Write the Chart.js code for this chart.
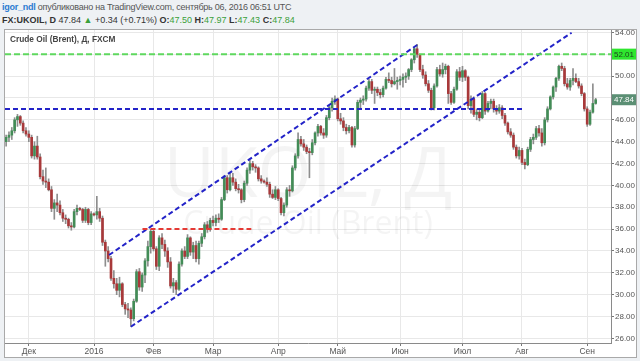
<!DOCTYPE html>
<html lang="ru">
<head>
<meta charset="UTF-8">
<title>UKOIL</title>
<script src="https://cdn.jsdelivr.net/npm/chart.js"></script>
<style>
  body { margin: 0; width: 640px; height: 361px; background: #eef1f4; position: relative; overflow: hidden;
         font-family: "Liberation Sans", Arial, sans-serif; }
  #h1 { position: absolute; left: 2px; top: 2px; font-size: 9px; letter-spacing: -0.25px; color: #555; white-space: nowrap; }
  #h1 b { color: #2b7bd1; }
  #h2 { position: absolute; left: 2px; top: 15px; font-size: 9px; color: #333; white-space: nowrap; }
  #h2 b { color: #333; }
  #h2 .g { color: #3aa03a; }
  #frame { position: absolute; left: 4px; top: 29px; width: 631px; height: 327px; border: 1px solid #a9a9a9; background: #fff; }
  #title { position: absolute; left: 5px; top: 4px; font-size: 8.3px; font-weight: bold; color: #444; z-index: 2; }
</style>
</head>
<body>
<div id="h1"><b>igor_ndl</b> опубликовано на TradingView.com, сентябрь 06, 2016 06:51 UTC</div>
<div id="h2"><b>FX:UKOIL, D</b> 47.84 <span class="g">&#9650;</span> +0.34 (+0.71%) <b>O:</b><span class="g">47.50</span> <b>H:</b><span class="g">47.97</span> <b>L:</b><span class="g">47.43</span> <b>C:</b><span class="g">47.84</span></div>
<div id="frame">
  <div id="title">Crude Oil (Brent), Д, FXCM</div>
  <canvas id="chart"></canvas>
</div>
<script>
// daily bars, 19 Nov 2015 .. 06 Sep 2016 (weekdays)
const opens = [
  44.0, 44.4, 44.6, 45.0, 46.0, 46.3, 45.7, 45.0, 44.7, 44.4,
  42.7, 43.6, 42.6, 40.8, 40.4, 40.3, 39.6, 37.9, 38.4, 38.2,
  37.5, 37.0, 36.9, 36.3, 36.2, 37.6, 37.9, 37.8, 36.8, 37.8,
  36.6, 37.4, 37.3, 37.6, 37.0, 34.8, 34.0, 33.3, 31.5, 31.0,
  30.4, 31.0, 29.1, 28.7, 28.6, 27.8, 29.4, 32.1, 30.7, 31.8,
  33.1, 34.4, 35.8, 34.2, 32.6, 35.2, 34.6, 34.0, 33.0, 30.8,
  31.1, 30.5, 32.8, 34.0, 33.5, 35.2, 33.9, 34.5, 33.3, 34.7,
  35.3, 36.4, 36.0, 36.8, 36.6, 37.0, 36.9, 38.7, 40.7, 39.6,
  40.7, 40.3, 39.7, 39.6, 38.7, 40.2, 41.4, 42.0, 41.7, 41.6,
  40.6, 40.4, 40.3, 40.1, 39.2, 38.9, 39.6, 38.8, 37.5, 38.2,
  39.6, 39.5, 41.6, 42.7, 44.2, 43.8, 43.5, 43.1, 43.0, 43.9,
  44.8, 45.4, 44.8, 44.6, 46.2, 47.1, 47.7, 47.9, 46.1, 45.9,
  45.3, 45.0, 45.3, 43.7, 45.2, 47.6, 47.8, 47.9, 48.9, 49.5,
  48.7, 48.8, 48.5, 48.3, 48.9, 49.7, 49.6, 49.3, 49.5, 49.6,
  49.7, 49.9, 50.0, 50.6, 51.5, 52.5, 52.0, 50.6, 50.1, 49.3,
  48.7, 47.1, 49.1, 50.6, 50.2, 50.6, 50.9, 48.4, 47.6, 48.8,
  50.4, 49.9, 50.5, 49.9, 47.3, 47.9, 46.5, 46.7, 46.2, 48.4,
  46.8, 47.5, 47.7, 47.0, 46.8, 47.1, 46.4, 45.7, 44.9, 44.6,
  43.5, 42.7, 43.2, 42.1, 41.9, 43.3, 44.2, 44.4, 45.2, 44.8,
  43.9, 46.0, 47.0, 48.1, 49.0, 49.8, 50.9, 50.7, 49.3, 49.0,
  49.6, 49.8, 49.5, 49.1, 48.4, 47.0, 45.6, 46.7, 47.50
];
const highs = [
  44.6, 44.9, 45.3, 46.2, 46.5, 46.4, 45.9, 45.3, 45.0, 44.6,
  44.0, 44.5, 42.9, 41.4, 41.6, 40.6, 39.9, 38.7, 39.2, 38.6,
  37.8, 37.3, 37.0, 36.6, 37.8, 38.2, 38.0, 37.9, 38.0, 37.9,
  37.6, 37.5, 39.0, 37.9, 37.2, 35.0, 34.4, 33.5, 32.2, 31.5,
  31.6, 31.1, 29.3, 29.2, 28.8, 29.6, 32.3, 32.4, 32.0, 33.3,
  34.9, 36.0, 36.0, 34.4, 35.4, 35.6, 35.0, 34.3, 33.4, 31.5,
  31.3, 33.0, 34.2, 34.4, 35.5, 35.3, 34.8, 34.9, 34.9, 35.6,
  36.6, 36.7, 37.0, 37.2, 37.3, 37.4, 38.9, 40.9, 40.9, 41.2,
  41.1, 40.6, 40.1, 39.7, 40.4, 41.6, 42.3, 42.2, 41.9, 41.7,
  40.9, 40.5, 40.7, 40.3, 39.6, 39.9, 39.7, 38.9, 38.4, 39.8,
  40.0, 41.8, 42.9, 44.8, 44.5, 44.2, 43.7, 43.4, 44.2, 44.9,
  45.6, 45.5, 45.2, 46.4, 47.3, 48.0, 48.2, 48.0, 46.6, 46.2,
  45.6, 45.5, 45.4, 45.4, 47.8, 48.0, 48.2, 49.1, 49.7, 49.7,
  49.0, 49.0, 48.8, 49.1, 49.9, 50.3, 49.9, 50.7, 49.9, 50.0,
  50.2, 50.3, 50.7, 51.6, 52.6, 52.9, 52.0, 51.0, 50.4, 49.6,
  48.9, 49.3, 50.8, 51.0, 51.2, 51.1, 51.0, 48.6, 49.0, 50.6,
  50.8, 50.9, 50.6, 50.0, 48.2, 48.1, 47.0, 46.9, 48.6, 48.5,
  47.7, 47.9, 47.9, 47.3, 47.4, 47.3, 46.6, 45.8, 45.2, 44.8,
  43.7, 43.5, 43.4, 42.4, 43.5, 44.4, 44.7, 45.4, 45.5, 45.2,
  46.2, 47.2, 48.2, 49.1, 49.9, 51.0, 51.2, 50.9, 49.8, 49.8,
  50.7, 50.2, 49.8, 49.3, 48.5, 47.2, 46.9, 49.3, 47.97
];
const lows = [
  43.6, 44.0, 44.2, 44.8, 45.4, 45.5, 44.8, 44.5, 44.0, 42.5,
  42.4, 42.4, 40.6, 40.1, 39.8, 39.5, 37.6, 36.9, 37.6, 37.3,
  36.7, 36.5, 36.1, 35.9, 36.1, 37.3, 37.7, 36.6, 36.6, 36.4,
  36.4, 37.2, 36.9, 36.7, 34.5, 32.6, 33.0, 31.3, 30.6, 30.0,
  29.8, 28.9, 28.2, 27.9, 27.1, 27.6, 29.3, 30.4, 30.3, 31.1,
  32.6, 33.8, 34.0, 32.3, 32.2, 34.2, 33.5, 32.5, 30.6, 30.2,
  30.0, 30.4, 32.6, 33.3, 33.3, 33.6, 33.3, 33.0, 32.8, 34.4,
  35.1, 35.7, 35.8, 36.3, 36.3, 36.6, 36.8, 38.6, 39.3, 39.5,
  40.0, 39.5, 39.3, 38.4, 38.5, 40.0, 41.1, 41.4, 41.2, 40.4,
  40.2, 40.2, 39.9, 38.9, 38.8, 38.7, 38.6, 37.3, 37.2, 38.0,
  39.0, 39.4, 41.4, 42.5, 43.6, 43.2, 42.9, 40.7, 42.8, 43.7,
  44.5, 44.6, 44.3, 44.4, 46.0, 46.8, 47.4, 45.9, 45.6, 45.0,
  44.7, 44.8, 43.5, 43.5, 45.1, 47.1, 47.4, 47.7, 48.7, 48.4,
  47.5, 48.2, 48.0, 48.1, 48.8, 49.4, 49.0, 49.2, 48.8, 49.2,
  49.0, 49.4, 49.7, 50.4, 51.2, 51.7, 50.4, 49.8, 49.1, 48.5,
  46.9, 46.9, 49.0, 50.0, 49.9, 50.2, 47.5, 47.4, 47.5, 48.7,
  49.6, 49.5, 49.6, 47.0, 46.6, 46.3, 46.0, 45.9, 46.1, 46.5,
  46.7, 47.0, 46.7, 46.5, 46.6, 46.1, 45.5, 44.7, 44.4, 43.3,
  42.5, 42.4, 41.9, 41.5, 41.8, 43.1, 43.8, 44.2, 44.5, 43.6,
  43.7, 45.8, 46.9, 47.9, 48.6, 49.6, 50.5, 49.1, 48.8, 48.7,
  49.2, 49.4, 48.9, 48.2, 46.8, 45.4, 45.5, 46.6, 47.43
];
const closes = [
  44.4, 44.6, 45.0, 46.0, 46.3, 45.7, 45.0, 44.7, 44.4, 42.7,
  43.6, 42.6, 40.8, 40.4, 40.3, 39.6, 37.9, 38.4, 38.2, 37.5,
  37.0, 36.9, 36.3, 36.2, 37.6, 37.9, 37.8, 36.8, 37.8, 36.6,
  37.4, 37.3, 37.6, 37.0, 34.8, 34.0, 33.3, 31.5, 31.0, 30.4,
  31.0, 29.1, 28.7, 28.6, 27.8, 29.4, 32.1, 30.7, 31.8, 33.1,
  34.4, 35.8, 34.2, 32.6, 35.2, 34.6, 34.0, 33.0, 30.8, 31.1,
  30.5, 32.8, 34.0, 33.5, 35.2, 33.9, 34.5, 33.3, 34.7, 35.3,
  36.4, 36.0, 36.8, 36.6, 37.0, 36.9, 38.7, 40.7, 39.6, 40.7,
  40.3, 39.7, 39.6, 38.7, 40.2, 41.4, 42.0, 41.7, 41.6, 40.6,
  40.4, 40.3, 40.1, 39.2, 38.9, 39.6, 38.8, 37.5, 38.2, 39.6,
  39.5, 41.6, 42.7, 44.2, 43.8, 43.5, 43.1, 43.0, 43.9, 44.8,
  45.4, 44.8, 44.6, 46.2, 47.1, 47.7, 47.9, 46.1, 45.9, 45.3,
  45.0, 45.3, 43.7, 45.2, 47.6, 47.8, 47.9, 48.9, 49.5, 48.7,
  48.8, 48.5, 48.3, 48.9, 49.7, 49.6, 49.3, 49.5, 49.6, 49.7,
  49.9, 50.0, 50.6, 51.5, 52.5, 52.0, 50.6, 50.1, 49.3, 48.7,
  47.1, 49.1, 50.6, 50.2, 50.6, 50.9, 48.4, 47.6, 48.8, 50.4,
  49.9, 50.5, 49.9, 47.3, 47.9, 46.5, 46.7, 46.2, 48.4, 46.8,
  47.5, 47.7, 47.0, 46.8, 47.1, 46.4, 45.7, 44.9, 44.6, 43.5,
  42.7, 43.2, 42.1, 41.9, 43.3, 44.2, 44.4, 45.2, 44.8, 43.9,
  46.0, 47.0, 48.1, 49.0, 49.8, 50.9, 50.7, 49.3, 49.0, 49.6,
  49.8, 49.5, 49.1, 48.4, 47.0, 45.6, 46.7, 47.5, 47.84
];

// time axis: bar index of the first bar of each month
const monthTickIdx = [8, 31, 52, 73, 96, 117, 139, 161, 182, 205];
const monthLabels = ['Дек', '2016', 'Фев', 'Мар', 'Апр', 'Май', 'Июн', 'Июл', 'Авг', 'Сен'];
const priceTicks = [26, 28, 30, 32, 34, 36, 38, 40, 42, 44, 46, 48, 50, 52, 54];

// drawings: [bar index, price] pairs
const channelTop = [[36.3, 33.63], [145.0, 52.85]];
const channelBottom = [[44.0, 27.07], [199.5, 53.97]];
const levelBlue = [[-0.4, 47.0], [182.4, 47.0]];
const levelRed = [[48.1, 36.0], [86.5, 36.0]];
const levelGreen = [[-0.4, 52.01], [213.4, 52.01]];
const greenLevel = 52.01;

const UP = '#438c57', DOWN = '#a8393a', WICK = '#8e8e8e';

const wickData = lows.map((l, i) => ({ x: i, y: [l, highs[i]] }));
const bodyData = opens.map((o, i) => ({ x: i, y: [o, closes[i]] }));
const bodyColors = opens.map((o, i) => closes[i] >= o ? UP : DOWN);

function drawLine(pts, color, dash) {
    return {
        type: 'line',
        data: pts.map(p => ({ x: p[0], y: p[1] })),
        borderColor: color,
        borderWidth: 2,
        borderDash: dash,
        pointRadius: 0,
        fill: false,
        order: 0
    };
}

const decor = {
    id: 'decor',
    beforeDatasetsDraw(chart) {
        const { ctx, chartArea: a } = chart;
        const cx = (a.left + a.right) / 2;
        ctx.save();
        ctx.fillStyle = 'rgba(0,0,0,0.045)';
        ctx.textAlign = 'center';
        ctx.font = '70px "Open Sans"';
        ctx.fillText('UKOIL, Д', cx, a.top + 167);
        ctx.font = '32px "Open Sans"';
        ctx.fillText('Crude Oil (Brent)', cx, a.top + 204);
        ctx.restore();
    },
    afterDraw(chart) {
        const { ctx, chartArea: a } = chart;
        const ys = chart.scales.y;
        const tag = (v, bg, fg) => {
            const y = ys.getPixelForValue(v);
            ctx.fillStyle = bg;
            ctx.fillRect(a.right + 1, y - 5.5, 24, 11);
            ctx.fillStyle = fg;
            ctx.font = '8px "Liberation Sans", Arial';
            ctx.textAlign = 'left';
            ctx.textBaseline = 'middle';
            ctx.fillText(v.toFixed(2), a.right + 3, y + 0.5);
        };
        ctx.save();
        tag(greenLevel, '#2ee62e', '#1d3d1d');
        tag(closes[closes.length - 1], '#5b8f74', '#ffffff');
        ctx.restore();
    }
};

new Chart(document.getElementById('chart'), {
    type: 'bar',
    data: {
        datasets: [
            drawLine(levelGreen, '#5fd85f', [6, 3]),
            drawLine(levelBlue, '#2323c8', [5, 3]),
            drawLine(levelRed, '#e53a35', [5, 3]),
            drawLine(channelTop, '#2323c8', [5, 3]),
            drawLine(channelBottom, '#2323c8', [5, 3]),
            {
                data: bodyData,
                backgroundColor: bodyColors,
                barThickness: 2,
                minBarLength: 1,
                grouped: false,
                order: 1
            },
            {
                data: wickData,
                backgroundColor: WICK,
                barThickness: 1,
                grouped: false,
                order: 2
            }
        ]
    },
    options: {
        responsive: true,
        maintainAspectRatio: false,
        animation: false,
        layout: { padding: 0 },
        plugins: { legend: { display: false }, tooltip: { enabled: false } },
        scales: {
            x: {
                type: 'linear',
                min: -0.4,
                max: 213.4,
                offset: false,
                afterBuildTicks(s) { s.ticks = monthTickIdx.map(v => ({ value: v })); },
                afterFit(s) { s.height = 14; s.paddingLeft = 0; s.paddingRight = 0; },
                ticks: {
                    autoSkip: false,
                    maxRotation: 0,
                    padding: 1,
                    color: '#555',
                    font: { size: 8.5, family: '"Liberation Sans", Arial' },
                    callback: (v, i) => monthLabels[i]
                },
                grid: { color: '#e8e8e8', offset: false, tickLength: 3, tickColor: '#777' },
                border: { color: '#8a8a8a' }
            },
            y: {
                type: 'linear',
                position: 'right',
                min: 25.58,
                max: 54.22,
                afterBuildTicks(s) { s.ticks = priceTicks.map(v => ({ value: v })); },
                afterFit(s) { s.width = 25; s.paddingTop = 0; s.paddingBottom = 0; },
                ticks: {
                    padding: 1,
                    color: '#555',
                    font: { size: 8, family: '"Liberation Sans", Arial' },
                    callback: v => v.toFixed(2)
                },
                grid: { color: '#e8e8e8', tickLength: 3, tickColor: '#777' },
                border: { color: '#8a8a8a' }
            }
        }
    },
    plugins: [decor]
});
</script>
</body>
</html>
